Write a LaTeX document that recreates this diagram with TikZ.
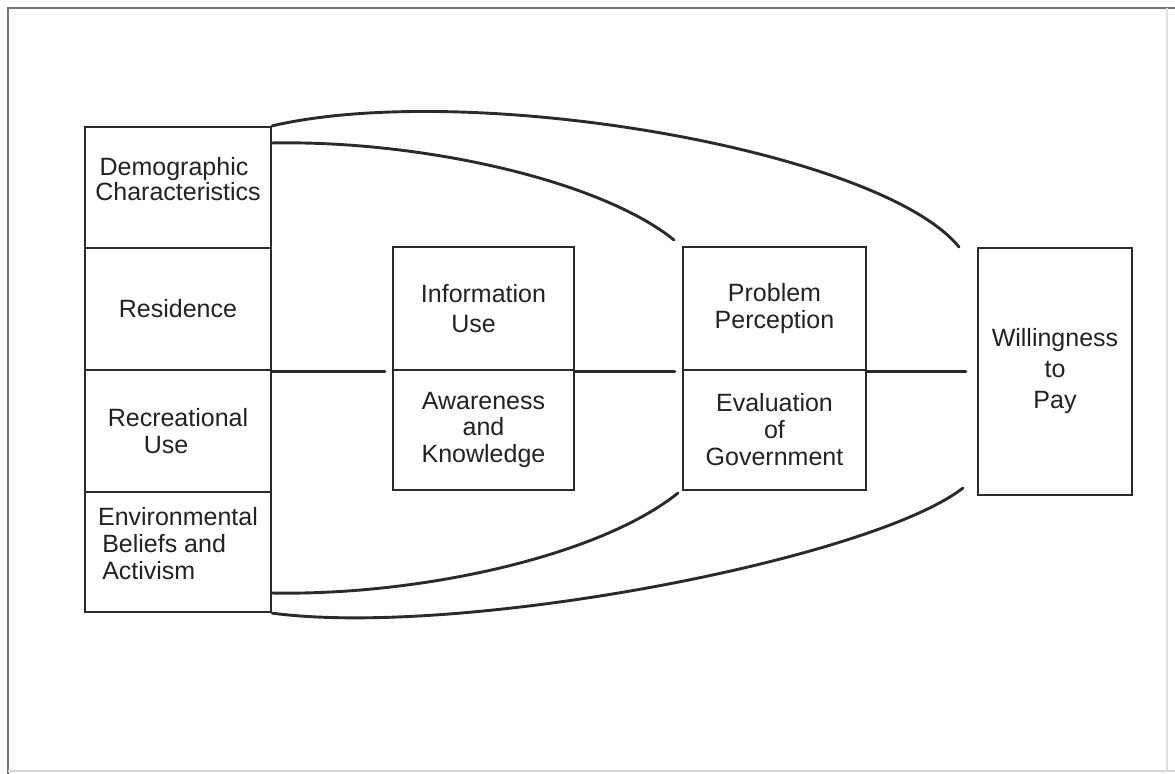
\documentclass[tikz,border=0pt]{standalone}
\usepackage{fontspec}
\setmainfont{Liberation Sans}
\definecolor{ink}{HTML}{2A2A2A}
\definecolor{txt}{HTML}{222222}
\begin{document}
\begin{tikzpicture}[x=0.5pt,y=-0.5pt,
  box/.style={draw=ink, line width=1.15pt, inner sep=0pt, align=center, text=txt,
              font=\fontsize{12.5}{13.5}\selectfont},
  link/.style={draw=ink, line width=1.45pt, line cap=round},
  frameline/.style={line width=1.2pt},
]
\useasboundingbox (0,0) rectangle (1175,774);
\fill[white] (0,0) rectangle (1175,774);

% outer frame: strong on the top and left, faint on the right and bottom
\draw[frameline, draw=black!55] (8,774) -- (8,8) -- (1175,8);
\draw[frameline, draw=black!12] (1167,8) -- (1167,771);
\draw[frameline, draw=black!15] (8,771) -- (1175,771);

% left column of background factors
\node[box, minimum width=93pt, minimum height=60.5pt,
      font=\fontsize{12.5}{12.5}\selectfont] (demo) at (178,187.5)
      {Demographic\hspace*{4pt}\\Characteristics\\[-4pt]};
\node[box, minimum width=93pt, minimum height=61pt] (res) at (178,309) {Residence};
\node[box, minimum width=93pt, minimum height=61pt] (rec) at (178,431)
      {Recreational\\Use\hspace*{12pt}};
\node[box, minimum width=93pt, minimum height=60pt, align=left] (env) at (178,552)
      {Environmental\\\,Beliefs and\\\,Activism\\[-5pt]};

% information block
\node[box, minimum width=90.5pt, minimum height=61.5pt,
      font=\fontsize{12.5}{15}\selectfont] (info) at (483.5,308.5)
      {Information\\Use\hspace*{10pt}};
\node[box, minimum width=90.5pt, minimum height=60pt] (aware) at (483.5,430) {Awareness\\and\\Knowledge};

% perception block
\node[box, minimum width=91.5pt, minimum height=61.5pt] (prob) at (774.5,308.5) {Problem\\Perception};
\node[box, minimum width=91.5pt, minimum height=60pt] (evalg) at (774.5,430) {Evaluation\\of\\Government};

% outcome
\node[box, minimum width=77pt, minimum height=123.5pt,
      font=\fontsize{12.5}{15.5}\selectfont] (wtp) at (1055,371.5) {Willingness\\to\\Pay};

% free ends of the curved connectors
\coordinate (demoR) at (271,143);
\coordinate (probA) at (674,240);
\coordinate (wtpA)  at (959,247);
\coordinate (envR)  at (271,593);
\coordinate (evalB) at (678,493);
\coordinate (wtpB)  at (963,488);

% straight path through the middle
\draw[link, shorten >=3.5pt] (res.south east) -- (info.south west);
\draw[link, shorten >=3.5pt] (info.south east) -- (prob.south west);
\draw[link, shorten >=5.5pt] (prob.south east) -- (wtp.west |- prob.south east);

% curved paths bypassing the middle boxes
\draw[link] (demo.north east) .. controls (470,80) and (880,150) .. (wtpA);
\draw[link] (demoR) .. controls (420,140) and (600,180) .. (probA);
\draw[link] (envR) .. controls (420,596) and (600,556) .. (evalB);
\draw[link] (env.south east) .. controls (460,638) and (870,560) .. (wtpB);
\end{tikzpicture}
\end{document}
